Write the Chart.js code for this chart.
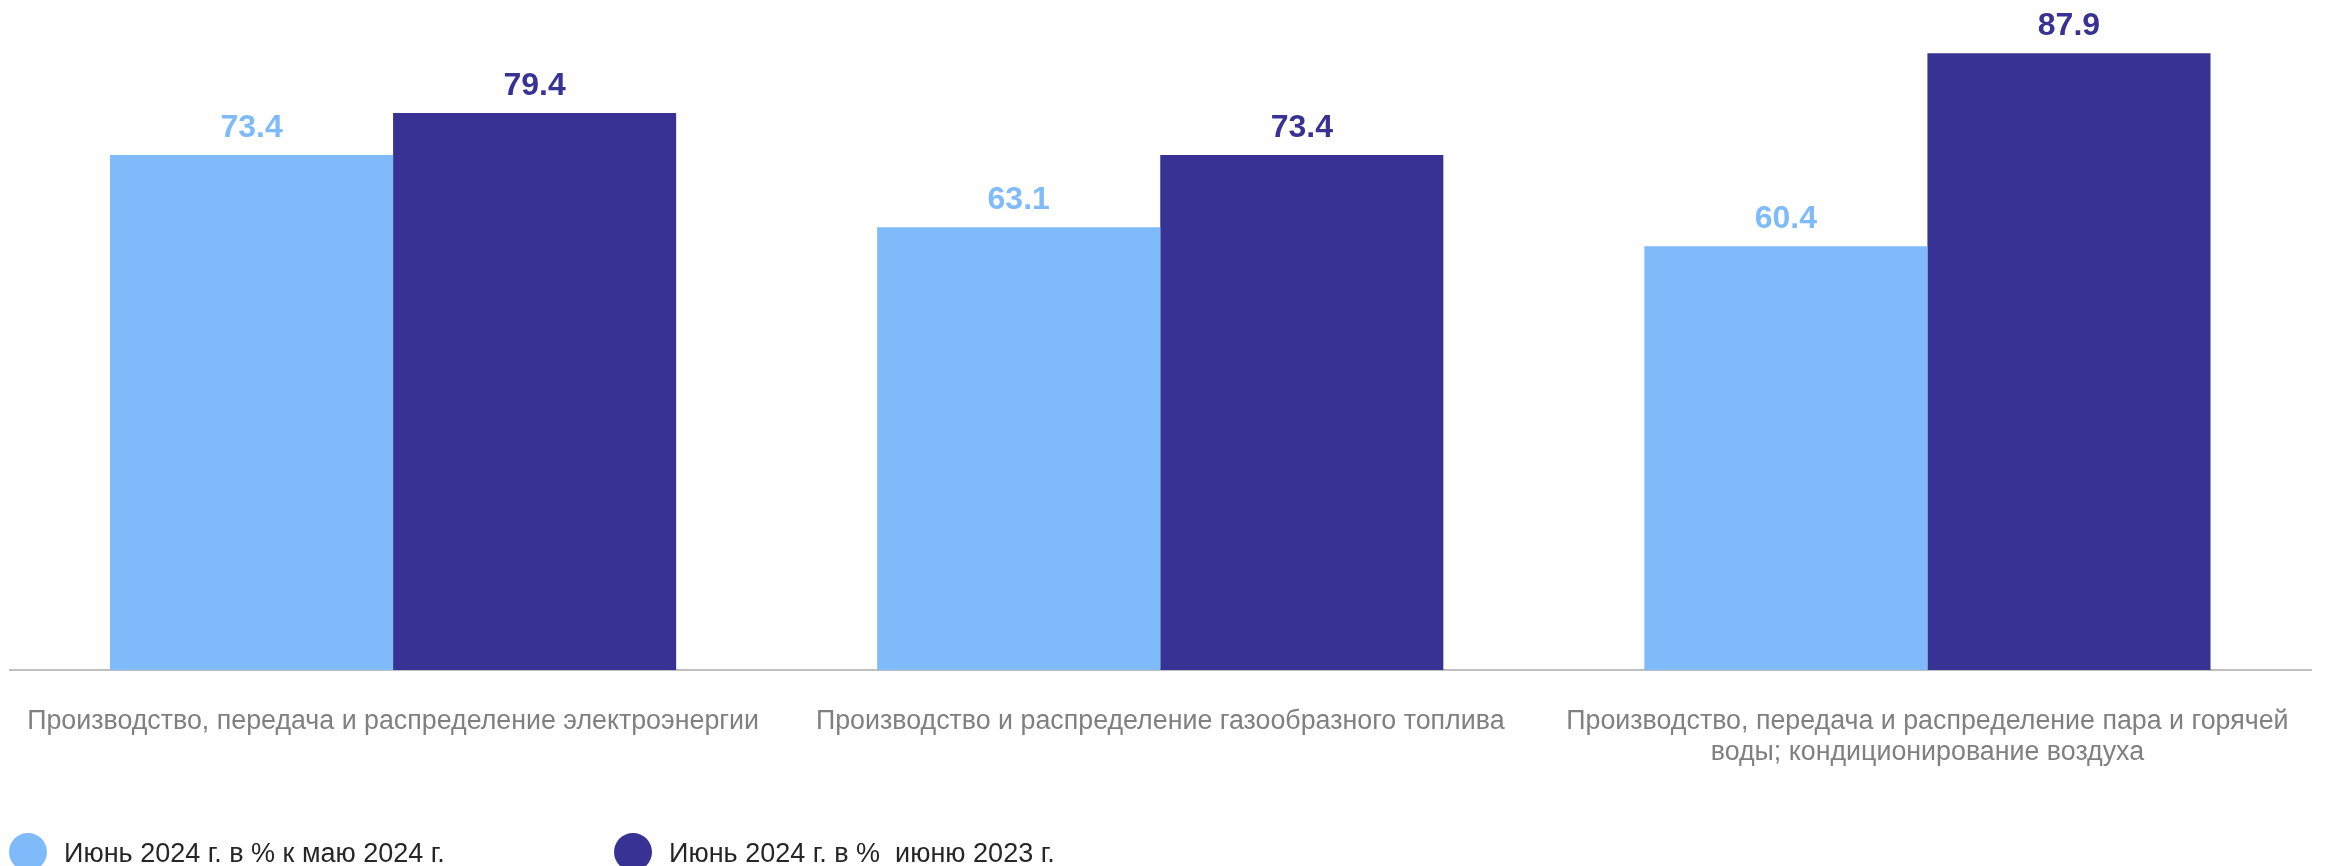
<!DOCTYPE html>
<html>
<head>
<meta charset="utf-8">
<script src="https://cdn.jsdelivr.net/npm/chart.js@4"></script>
<style>
    html, body { margin: 0; padding: 0; background: #ffffff; }
    #wrap { width: 2326px; height: 866px; }
</style>
</head>
<body>
<div id="wrap"><canvas id="chart"></canvas></div>
<script>
const categories = [
    "Производство, передача и распределение электроэнергии",
    "Производство и распределение газообразного топлива",
    ["Производство, передача и распределение пара и горячей", "воды; кондиционирование воздуха"]
];
const seriesNames = ["Июнь 2024 г. в % к маю 2024 г.", "Июнь 2024 г. в %  июню 2023 г."];
const mayValues = [73.4, 63.1, 60.4];
const yearValues = [79.4, 73.4, 87.9];

const LIGHT = "#7fbafa";
const DARK = "#373294";
const FONT = "'Liberation Sans', Arial, sans-serif";

// value labels above each bar
const valueLabels = {
    id: "valueLabels",
    afterDatasetsDraw(chart) {
        const ctx = chart.ctx;
        ctx.save();
        ctx.font = "bold 32px " + FONT;
        ctx.textAlign = "center";
        ctx.textBaseline = "alphabetic";
        chart.data.datasets.forEach((ds, i) => {
            chart.getDatasetMeta(i).data.forEach((bar, j) => {
                ctx.fillStyle = ds.backgroundColor;
                ctx.fillText(ds.data[j].toFixed(1), bar.x, bar.y - 18);
            });
        });
        ctx.restore();
    }
};

// legend drawn along the bottom edge
const bottomLegend = {
    id: "bottomLegend",
    afterDraw(chart) {
        const ctx = chart.ctx;
        const starts = [28, 633];
        ctx.save();
        ctx.font = "27px " + FONT;
        ctx.textBaseline = "alphabetic";
        ctx.textAlign = "left";
        chart.data.datasets.forEach((ds, i) => {
            ctx.fillStyle = ds.backgroundColor;
            ctx.beginPath();
            ctx.arc(starts[i], 852, 19, 0, Math.PI * 2);
            ctx.fill();
            ctx.fillStyle = "#262626";
            ctx.fillText(ds.label, starts[i] + 36, 862);
        });
        ctx.restore();
    }
};

new Chart(document.getElementById("chart"), {
    type: "bar",
    data: {
        labels: categories,
        datasets: [
            { label: seriesNames[0], data: mayValues, backgroundColor: LIGHT },
            { label: seriesNames[1], data: yearValues, backgroundColor: DARK }
        ]
    },
    options: {
        responsive: true,
        maintainAspectRatio: false,
        animation: false,
        layout: { padding: { top: 0, left: 9.5, right: 15, bottom: 62 } },
        datasets: { bar: { categoryPercentage: 0.738, barPercentage: 1 } },
        plugins: {
            legend: { display: false },
            tooltip: { enabled: false }
        },
        scales: {
            x: {
                grid: { display: false, drawTicks: false },
                border: { display: true, color: "#bfbfbf", width: 2 },
                ticks: {
                    padding: 36,
                    maxRotation: 0,
                    autoSkip: false,
                    color: "#808080",
                    font: { family: FONT, size: 26.8, lineHeight: 31 / 26.8 }
                },
                // labels fit inside, so no extra side padding from the tick padding
                afterFit(scale) {
                    scale.paddingLeft = 0;
                    scale.paddingRight = 0;
                }
            },
            y: {
                display: false,
                min: 0,
                max: 95.5
            }
        }
    },
    plugins: [valueLabels, bottomLegend]
});
</script>
</body>
</html>
